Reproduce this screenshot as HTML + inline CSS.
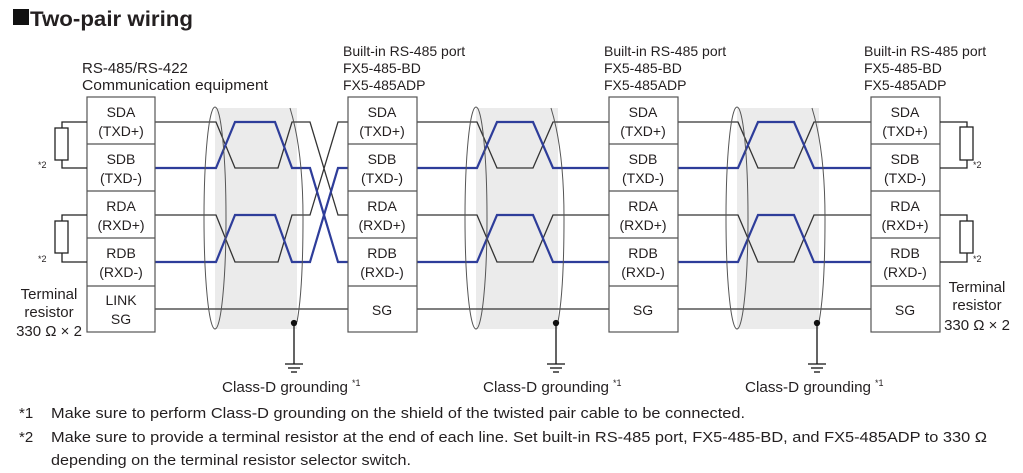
<!DOCTYPE html>
<html><head><meta charset="utf-8"><style>
body{margin:0;background:#fff}
svg{display:block}
text{font-family:"Liberation Sans",Arial,sans-serif;fill:#231f20}
</style></head><body>
<svg width="1023" height="473" viewBox="0 0 1023 473">
<rect x="13" y="9" width="16" height="16" fill="#111"/>
<text x="30" y="26" font-size="21" font-weight="bold" fill="#111" textLength="163" lengthAdjust="spacingAndGlyphs">Two-pair wiring</text>

<g font-size="14">
<text x="82" y="73" font-size="15">RS-485/RS-422</text>
<text x="82" y="90" textLength="186" lengthAdjust="spacingAndGlyphs" font-size="15">Communication equipment</text>
<text x="343" y="56">Built-in RS-485 port</text><text x="343" y="73">FX5-485-BD</text><text x="343" y="90">FX5-485ADP</text>
<text x="604" y="56">Built-in RS-485 port</text><text x="604" y="73">FX5-485-BD</text><text x="604" y="90">FX5-485ADP</text>
<text x="864" y="56">Built-in RS-485 port</text><text x="864" y="73">FX5-485-BD</text><text x="864" y="90">FX5-485ADP</text>
</g>

<g fill="#ebebeb" stroke="none">
<rect x="215" y="108" width="82" height="221"/>
<rect x="476" y="108" width="82" height="221"/>
<rect x="737" y="108" width="82" height="221"/>
</g>

<g fill="none" stroke-width="1.3" stroke="#333">
<polyline points="155,122 216,122 235,168 278,168 292,122 310,122 338,215 348,215"/>
<polyline points="155,215 216,215 235,262 278,262 292,215 310,215 338,122 348,122"/>
<polyline points="417,122 477,122 497,168 533,168 553,122 609,122"/>
<polyline points="417,215 477,215 497,262 533,262 553,215 609,215"/>
<polyline points="678,122 738,122 758,168 794,168 814,122 871,122"/>
<polyline points="678,215 738,215 758,262 794,262 814,215 871,215"/>
<line x1="155" y1="309" x2="871" y2="309"/>
</g>
<g fill="none" stroke-width="2.2" stroke="#2e3d9a">
<polyline points="155,168 216,168 235,122 275,122 292,168 310,168 338,262 348,262"/>
<polyline points="155,262 216,262 235,215 275,215 292,262 310,262 338,168 348,168"/>
<polyline points="417,168 477,168 497,122 533,122 553,168 609,168"/>
<polyline points="417,262 477,262 497,215 533,215 553,262 609,262"/>
<polyline points="678,168 738,168 758,122 794,122 814,168 871,168"/>
<polyline points="678,262 738,262 758,215 794,215 814,262 871,262"/>
</g>

<g fill="none" stroke="#555" stroke-width="1">
<ellipse cx="215" cy="218" rx="11" ry="111"/>
<path d="M290,108 Q303,150 303,218 Q303,290 297,322"/>
<ellipse cx="476" cy="218" rx="11" ry="111"/>
<path d="M551,108 Q564,150 564,218 Q564,290 558,322"/>
<ellipse cx="737" cy="218" rx="11" ry="111"/>
<path d="M812,108 Q825,150 825,218 Q825,290 819,322"/>
</g>

<g stroke="#111" stroke-width="1.3" fill="#111">
<circle cx="294" cy="323" r="2.5"/><line x1="294" y1="323" x2="294" y2="364"/>
<line x1="285" y1="364" x2="303" y2="364"/><line x1="288" y1="368" x2="300" y2="368"/><line x1="291" y1="372" x2="297" y2="372"/>
<circle cx="556" cy="323" r="2.5"/><line x1="556" y1="323" x2="556" y2="364"/>
<line x1="547" y1="364" x2="565" y2="364"/><line x1="550" y1="368" x2="562" y2="368"/><line x1="553" y1="372" x2="559" y2="372"/>
<circle cx="817" cy="323" r="2.5"/><line x1="817" y1="323" x2="817" y2="364"/>
<line x1="808" y1="364" x2="826" y2="364"/><line x1="811" y1="368" x2="823" y2="368"/><line x1="814" y1="372" x2="820" y2="372"/>
</g>

<g fill="#fff" stroke="#555" stroke-width="1.2">
<rect x="87" y="97" width="68" height="235"/>
<rect x="348" y="97" width="69" height="235"/>
<rect x="609" y="97" width="69" height="235"/>
<rect x="871" y="97" width="69" height="235"/>
</g>
<g stroke="#555" stroke-width="1.2">
<line x1="87" y1="144" x2="155" y2="144"/><line x1="87" y1="191" x2="155" y2="191"/><line x1="87" y1="238" x2="155" y2="238"/><line x1="87" y1="286" x2="155" y2="286"/>
<line x1="348" y1="144" x2="417" y2="144"/><line x1="348" y1="191" x2="417" y2="191"/><line x1="348" y1="238" x2="417" y2="238"/><line x1="348" y1="286" x2="417" y2="286"/>
<line x1="609" y1="144" x2="678" y2="144"/><line x1="609" y1="191" x2="678" y2="191"/><line x1="609" y1="238" x2="678" y2="238"/><line x1="609" y1="286" x2="678" y2="286"/>
<line x1="871" y1="144" x2="940" y2="144"/><line x1="871" y1="191" x2="940" y2="191"/><line x1="871" y1="238" x2="940" y2="238"/><line x1="871" y1="286" x2="940" y2="286"/>
</g>
<g font-size="14" text-anchor="middle">
<text x="121" y="117">SDA</text><text x="121" y="136">(TXD+)</text>
<text x="121" y="164">SDB</text><text x="121" y="183">(TXD-)</text>
<text x="121" y="211">RDA</text><text x="121" y="230">(RXD+)</text>
<text x="121" y="258">RDB</text><text x="121" y="277">(RXD-)</text>
<text x="121" y="305">LINK</text><text x="121" y="324">SG</text>
<text x="382" y="117">SDA</text><text x="382" y="136">(TXD+)</text>
<text x="382" y="164">SDB</text><text x="382" y="183">(TXD-)</text>
<text x="382" y="211">RDA</text><text x="382" y="230">(RXD+)</text>
<text x="382" y="258">RDB</text><text x="382" y="277">(RXD-)</text>
<text x="382" y="315">SG</text>
<text x="643" y="117">SDA</text><text x="643" y="136">(TXD+)</text>
<text x="643" y="164">SDB</text><text x="643" y="183">(TXD-)</text>
<text x="643" y="211">RDA</text><text x="643" y="230">(RXD+)</text>
<text x="643" y="258">RDB</text><text x="643" y="277">(RXD-)</text>
<text x="643" y="315">SG</text>
<text x="905" y="117">SDA</text><text x="905" y="136">(TXD+)</text>
<text x="905" y="164">SDB</text><text x="905" y="183">(TXD-)</text>
<text x="905" y="211">RDA</text><text x="905" y="230">(RXD+)</text>
<text x="905" y="258">RDB</text><text x="905" y="277">(RXD-)</text>
<text x="905" y="315">SG</text>
</g>
<g font-size="15" text-anchor="middle">
<text x="49" y="299">Terminal</text><text x="49" y="317">resistor</text><text x="49" y="336">330 Ω × 2</text>
<text x="977" y="292">Terminal</text><text x="977" y="310">resistor</text><text x="977" y="330">330 Ω × 2</text>
</g>

<g fill="#fff" stroke="#222" stroke-width="1.3">
<polyline fill="none" points="87,122 62,122 62,168 87,168"/>
<rect x="55" y="128" width="13" height="32"/>
<polyline fill="none" points="87,215 62,215 62,262 87,262"/>
<rect x="55" y="221" width="13" height="32"/>
<polyline fill="none" points="940,122 967,122 967,168 940,168"/>
<rect x="960" y="127" width="13" height="33"/>
<polyline fill="none" points="940,215 967,215 967,262 940,262"/>
<rect x="960" y="221" width="13" height="32"/>
</g>
<g font-size="9">
<text x="38" y="168">*2</text><text x="38" y="262">*2</text>
<text x="973" y="168">*2</text><text x="973" y="262">*2</text>
</g>

<g font-size="15">
<text x="222" y="392" textLength="126" lengthAdjust="spacingAndGlyphs">Class-D grounding</text><text x="352" y="386" font-size="9">*1</text>
<text x="483" y="392" textLength="126" lengthAdjust="spacingAndGlyphs">Class-D grounding</text><text x="613" y="386" font-size="9">*1</text>
<text x="745" y="392" textLength="126" lengthAdjust="spacingAndGlyphs">Class-D grounding</text><text x="875" y="386" font-size="9">*1</text>
<text x="19" y="418">*1</text><text x="51" y="418" textLength="694" lengthAdjust="spacingAndGlyphs">Make sure to perform Class-D grounding on the shield of the twisted pair cable to be connected.</text>
<text x="19" y="442">*2</text><text x="51" y="442" textLength="936" lengthAdjust="spacingAndGlyphs">Make sure to provide a terminal resistor at the end of each line. Set built-in RS-485 port, FX5-485-BD, and FX5-485ADP to 330 Ω</text>
<text x="51" y="465" textLength="360" lengthAdjust="spacingAndGlyphs">depending on the terminal resistor selector switch.</text>
</g>
</svg>
</body></html>
